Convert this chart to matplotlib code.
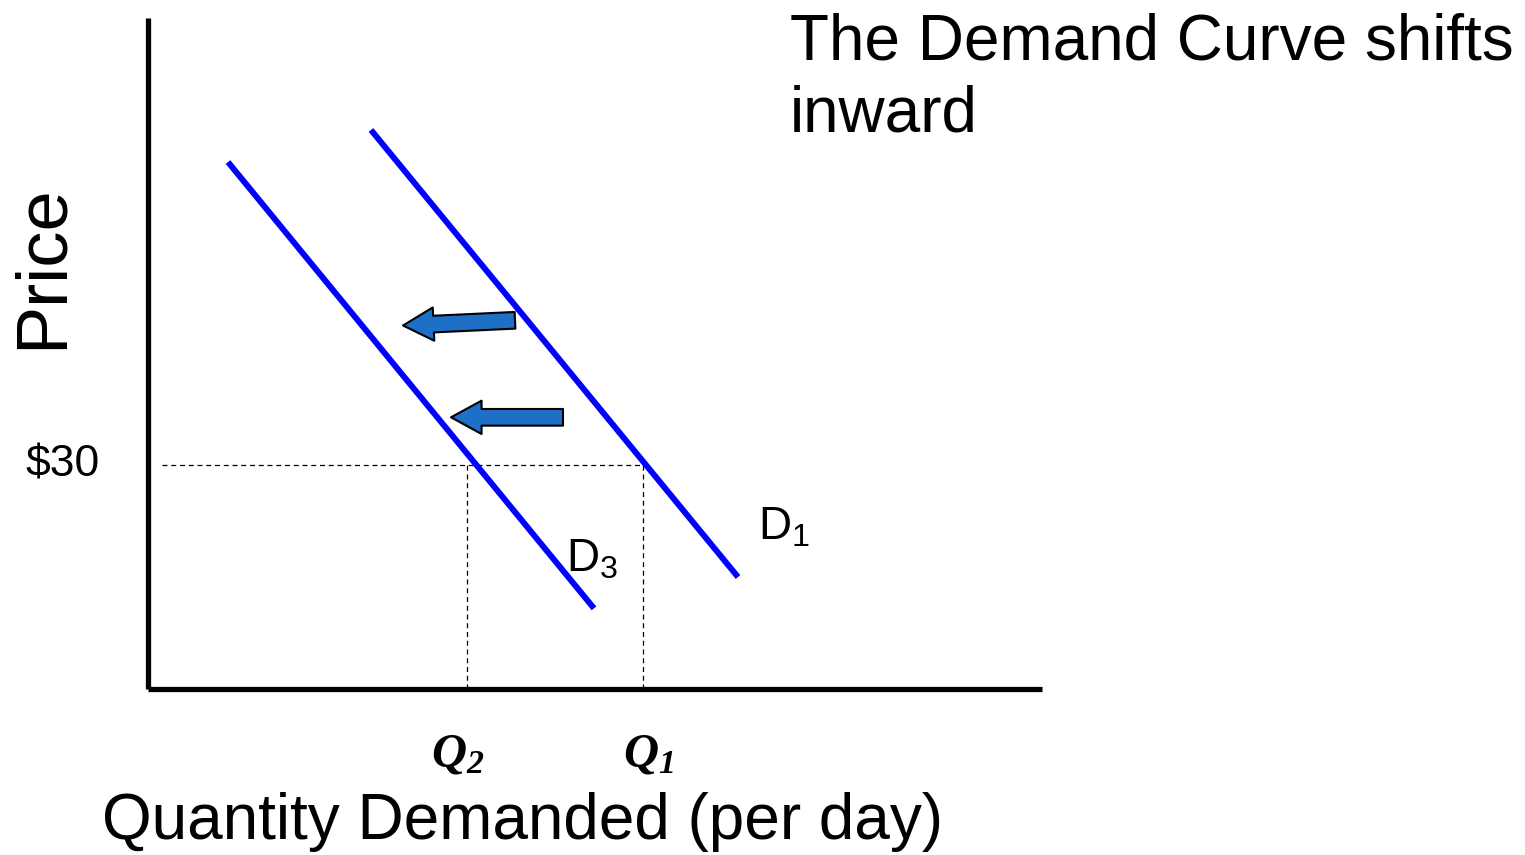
import matplotlib.pyplot as plt

plt.rcParams['font.family'] = ['Liberation Sans', 'DejaVu Sans']

# demand curves (quantity, price) end points
d1_q = [22.3, 59.0]
d1_p = [74.9, 15.0]
d3_q = [8.0, 44.6]
d3_p = [70.6, 10.8]

price = 30
q1 = 49.5
q2 = 31.9

# shift arrows: (tail_q, tail_p, tip_q, tip_p)
arrows = [(36.7, 49.4, 25.5, 48.7),
          (41.5, 36.4, 30.3, 36.4)]

W, H = 1525, 855
fig = plt.figure(figsize=(W / 100, H / 100), dpi=100)
ax = fig.add_axes([148 / W, (855 - 689) / H, (1042 - 148) / W, (689 - 18) / H])
ax.set_xlim(0, 89.4)
ax.set_ylim(0, 89.9)
for s in ['top', 'right']:
    ax.spines[s].set_visible(False)
for s in ['left', 'bottom']:
    ax.spines[s].set_linewidth(3.8)
    ax.spines[s].set_capstyle('butt')
ax.set_xticks([])
ax.set_yticks([])

# dashed guides
ax.plot([1.4, q1], [price, price], ls=(0, (4, 3)), color='black', lw=0.9)
ax.plot([q2, q2], [0, price], ls=(0, (4, 3)), color='black', lw=0.9)
ax.plot([q1, q1], [0, price], ls=(0, (4, 3)), color='black', lw=0.9)

ax.plot(d1_q, d1_p, color='#0000ff', lw=4.3, solid_capstyle='butt')
ax.plot(d3_q, d3_p, color='#0000ff', lw=4.3, solid_capstyle='butt')

for tq, tp, hq, hp in arrows:
    ax.annotate('', xy=(hq, hp), xytext=(tq, tp),
                arrowprops=dict(arrowstyle='simple,head_length=22,head_width=24,tail_width=12',
                                mutation_scale=1, fc='#1e6fc6', ec='black', lw=1.5,
                                shrinkA=0, shrinkB=0))

ax.text(61.0, 21.7, r'$\mathregular{D_1}$', fontsize=33, ha='left', va='center')
ax.text(41.8, 17.3, r'$\mathregular{D_3}$', fontsize=33, ha='left', va='center')

ax.text(-4.8, price, '$30', fontsize=32, ha='right', va='center')

for q, lab, dx in [(q2, r'$\mathregular{Q_2}$', -0.9), (q1, r'$\mathregular{Q_1}$', 0.6)]:
    ax.text(q + dx, -8.8, lab, fontsize=35, ha='center', va='center',
            family='Liberation Serif', weight='bold', style='italic', clip_on=False)

fig.text(43 / W, 1 - 267 / H, 'Price', fontsize=52, rotation=90, ha='center', va='center')
fig.text(523 / W, 1 - 822 / H, 'Quantity Demanded (per day)', fontsize=46, ha='center', va='center')
fig.text(790 / W, 1 - 12 / H, 'The Demand Curve shifts\ninward', fontsize=46,
         ha='left', va='top', linespacing=1.27)

fig.savefig('out.png', dpi=100)
